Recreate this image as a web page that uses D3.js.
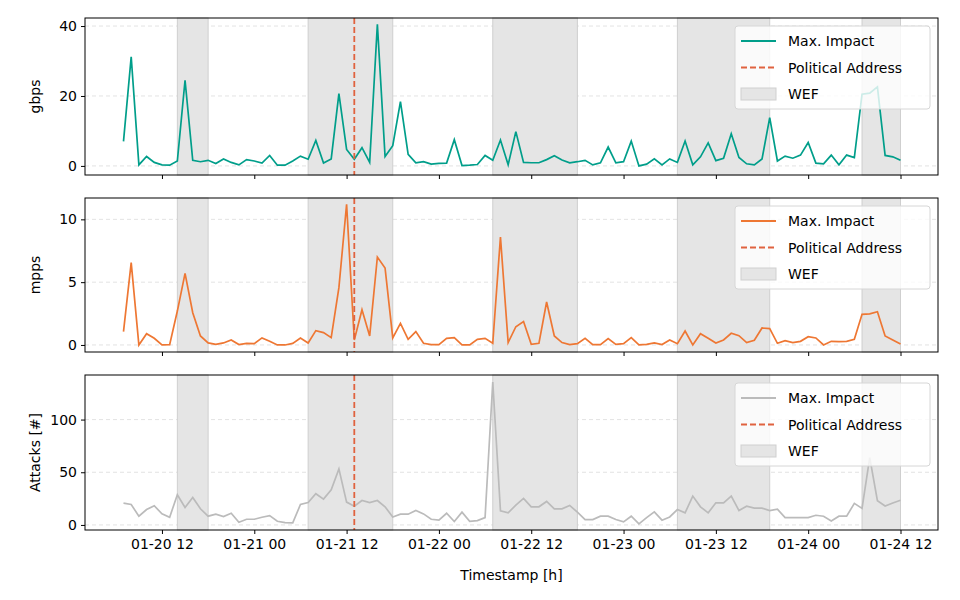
<!DOCTYPE html>
<html>
<head>
<meta charset="utf-8">
<script src="https://cdn.jsdelivr.net/npm/d3@7"></script>
<style>
  body { margin: 0; background: #fff; }
  text { font-family: "DejaVu Sans", sans-serif; }
</style>
</head>
<body>
<svg id="chart" width="960" height="600"></svg>
<script>
// hourly samples, starting 2020-01-20 07:00
const startTime = Date.UTC(2020, 0, 20, 7);

const gbps = [7.0, 31.2, 0.3, 2.7, 1.0, 0.3, 0.2, 1.4, 24.5, 1.6, 1.2, 1.6, 0.7, 2.0, 1.0, 0.3, 1.8, 1.4, 0.8, 3.0,
  0.2, 0.2, 1.4, 2.8, 1.9, 7.3, 0.8, 2.0, 20.7, 4.7, 1.9, 5.2, 1.0, 40.5, 2.7, 5.8, 18.4, 3.3, 0.9, 1.2,
  0.5, 0.7, 0.8, 7.5, 0.1, 0.2, 0.4, 3.0, 1.6, 7.4, 0.3, 9.8, 1.0, 0.9, 0.9, 1.8, 2.9, 1.7, 0.9, 1.2,
  1.6, 0.3, 0.9, 5.4, 0.9, 1.2, 7.1, 0.0, 0.5, 2.0, 0.3, 2.0, 1.0, 7.1, 0.3, 2.6, 6.6, 1.5, 2.2, 9.2,
  2.4, 0.6, 0.3, 2.0, 13.8, 1.4, 2.8, 2.2, 3.1, 6.7, 0.8, 0.6, 3.1, 0.3, 3.1, 2.4, 20.5, 20.8, 22.6, 3.0,
  2.6, 1.6];

const mpps = [1.06, 6.55, 0.0, 0.9, 0.53, 0.0, 0.03, 2.7, 5.7, 2.57, 0.72, 0.16, 0.05, 0.16, 0.4, 0.03, 0.13, 0.1, 0.56, 0.3,
  0.0, 0.0, 0.13, 0.56, 0.16, 1.14, 0.98, 0.58, 4.56, 11.2, 0.4, 2.8, 0.72, 7.0, 6.13, 0.56, 1.72, 0.45, 1.06, 0.13,
  0.03, 0.03, 0.53, 0.58, 0.0, 0.0, 0.45, 0.53, 0.13, 8.6, 0.19, 1.45, 1.86, 0.05, 0.13, 3.42, 0.72, 0.19, 0.03, 0.1,
  0.53, 0.03, 0.03, 0.5, 0.05, 0.1, 0.58, 0.0, 0.05, 0.16, 0.03, 0.4, 0.1, 1.11, 0.0, 0.9, 0.53, 0.16, 0.4, 0.93,
  0.74, 0.19, 0.37, 1.35, 1.3, 0.13, 0.34, 0.19, 0.29, 0.66, 0.56, 0.0, 0.29, 0.27, 0.29, 0.45, 2.44, 2.47, 2.65, 0.72,
  0.4, 0.08];

const attacks = [20.7, 19.4, 8.3, 14.6, 18.2, 10.5, 7.3, 28.7, 16.6, 26.1, 15.3, 8.3, 10.2, 8.0, 11.1, 2.5, 5.4, 5.4, 7.3, 8.9,
  3.5, 2.2, 1.9, 19.4, 21.3, 29.6, 24.5, 33.4, 53.2, 21.7, 17.8, 23.2, 21.3, 23.2, 17.2, 7.6, 10.2, 10.2, 13.7, 10.5,
  5.4, 4.5, 11.1, 3.2, 12.1, 3.5, 4.1, 7.0, 135.7, 13.4, 11.5, 18.8, 25.2, 17.2, 17.2, 22.3, 15.3, 15.3, 18.5, 12.1,
  5.1, 5.1, 8.3, 8.3, 5.1, 2.9, 8.3, 1.0, 7.0, 12.4, 4.5, 7.6, 14.6, 11.5, 27.4, 17.2, 11.5, 21.0, 21.0, 27.4,
  13.7, 17.8, 15.9, 15.9, 13.7, 15.0, 7.0, 7.0, 7.0, 7.0, 9.2, 8.3, 3.8, 8.3, 8.3, 20.5, 15.7, 63.8, 23.0, 18.0,
  20.8, 23.4];

// WEF sessions [start, end] in UTC
const wefPeriods = [
  [Date.UTC(2020, 0, 20, 14), Date.UTC(2020, 0, 20, 18)],
  [Date.UTC(2020, 0, 21, 7), Date.UTC(2020, 0, 21, 18)],
  [Date.UTC(2020, 0, 22, 7), Date.UTC(2020, 0, 22, 18)],
  [Date.UTC(2020, 0, 23, 7), Date.UTC(2020, 0, 23, 19)],
  [Date.UTC(2020, 0, 24, 7), Date.UTC(2020, 0, 24, 12)]
];
const politicalAddress = Date.UTC(2020, 0, 21, 13);

const panels = [
  { values: gbps, label: "gbps", color: "#009E8A", domain: [-2.6, 42.3], ticks: [0, 20, 40], top: 18, bottom: 175 },
  { values: mpps, label: "mpps", color: "#EE7733", domain: [-0.56, 11.7], ticks: [0, 5, 10], top: 198, bottom: 352 },
  { values: attacks, label: "Attacks [#]", color: "#BBBBBB", domain: [-4.8, 142.3], ticks: [0, 50, 100], top: 375, bottom: 530 }
];

const legendLabels = ["Max. Impact", "Political Address", "WEF"];
const xTicks = d3.range(9).map(i => Date.UTC(2020, 0, 20, 12) + i * 12 * 3600e3);

const svg = d3.select("#chart");
const left = 85, right = 938;

const x = d3.scaleUtc()
  .domain([Date.UTC(2020, 0, 20, 7), Date.UTC(2020, 0, 24, 12)])
  .range([123.5, 900.5]);

const fmt = d3.utcFormat("%m-%d %H");

panels.forEach((p, pi) => {
  const y = d3.scaleLinear().domain(p.domain).range([p.bottom, p.top]);
  const g = svg.append("g");
  const data = p.values.map((v, i) => ({ t: startTime + i * 3600e3, v }));

  // grid
  g.selectAll(".grid").data(p.ticks).enter().append("line")
    .attr("x1", left).attr("x2", right)
    .attr("y1", d => y(d)).attr("y2", d => y(d))
    .attr("stroke", "#dcdcdc").attr("stroke-width", 0.8)
    .attr("stroke-dasharray", "4,3");

  // WEF shading
  g.selectAll(".wef").data(wefPeriods).enter().append("rect")
    .attr("x", d => x(d[0])).attr("width", d => x(d[1]) - x(d[0]))
    .attr("y", p.top).attr("height", p.bottom - p.top)
    .attr("fill", "#e5e5e5").attr("stroke", "#cfcfcf").attr("stroke-width", 1);

  // series
  g.append("path").datum(data)
    .attr("d", d3.line().x(d => x(d.t)).y(d => y(d.v)))
    .attr("fill", "none").attr("stroke", p.color).attr("stroke-width", 1.7);

  // political address
  g.append("line")
    .attr("x1", x(politicalAddress)).attr("x2", x(politicalAddress))
    .attr("y1", p.top).attr("y2", p.bottom)
    .attr("stroke", "#E0623F").attr("stroke-width", 1.8)
    .attr("stroke-dasharray", "6,3");

  // frame
  g.append("rect")
    .attr("x", left).attr("y", p.top)
    .attr("width", right - left).attr("height", p.bottom - p.top)
    .attr("fill", "none").attr("stroke", "#000").attr("stroke-width", 1);

  // axes
  const yAxis = d3.axisLeft(y).tickValues(p.ticks).tickSize(4).tickPadding(4);
  g.append("g").attr("transform", `translate(${left},0)`).call(yAxis)
    .call(a => a.select(".domain").remove())
    .selectAll("text").attr("font-size", 14).attr("fill", "#000");

  const xAxis = d3.axisBottom(x).tickValues(xTicks).tickSize(4).tickPadding(5)
    .tickFormat(pi === 2 ? fmt : "");
  g.append("g").attr("transform", `translate(0,${p.bottom})`).call(xAxis)
    .call(a => a.select(".domain").remove())
    .selectAll("text").attr("font-size", 14).attr("fill", "#000");

  g.append("text")
    .attr("transform", `translate(40,${(p.top + p.bottom) / 2}) rotate(-90)`)
    .attr("text-anchor", "middle").attr("font-size", 14).text(p.label);

  // legend
  const lg = g.append("g").attr("transform", `translate(735,${p.top + 8})`);
  lg.append("rect").attr("width", 195).attr("height", 83).attr("rx", 3)
    .attr("fill", "rgba(255,255,255,0.8)").attr("stroke", "#d6d6d6");
  legendLabels.forEach((lab, li) => {
    const cy = 15 + li * 26.5;
    if (li === 0) {
      lg.append("line").attr("x1", 6).attr("x2", 41).attr("y1", cy).attr("y2", cy)
        .attr("stroke", p.color).attr("stroke-width", 1.8);
    } else if (li === 1) {
      lg.append("line").attr("x1", 6).attr("x2", 41).attr("y1", cy).attr("y2", cy)
        .attr("stroke", "#E0623F").attr("stroke-width", 1.8).attr("stroke-dasharray", "6,3");
    } else {
      lg.append("rect").attr("x", 6).attr("y", cy - 6).attr("width", 35).attr("height", 12)
        .attr("fill", "#e5e5e5").attr("stroke", "#cfcfcf");
    }
    lg.append("text").attr("x", 53).attr("y", cy + 5).attr("font-size", 14).text(lab);
  });
});

svg.append("text").attr("x", (left + right) / 2).attr("y", 580)
  .attr("text-anchor", "middle").attr("font-size", 14).text("Timestamp [h]");
</script>
</body>
</html>
